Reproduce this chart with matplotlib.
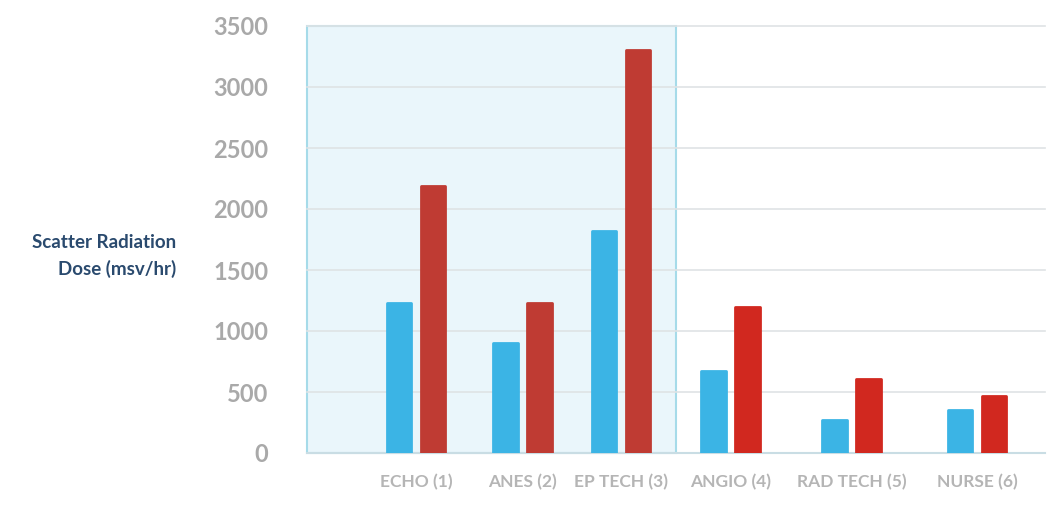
import matplotlib.pyplot as plt
from matplotlib.patches import Rectangle

categories = ["ECHO (1)", "ANES (2)", "EP TECH (3)", "ANGIO (4)", "RAD TECH (5)", "NURSE (6)"]
blue_vals = [1230, 900, 1820, 675, 270, 350]
red_vals = [2190, 1230, 3300, 1200, 610, 470]
yticks = [0, 500, 1000, 1500, 2000, 2500, 3000, 3500]

# layout (group centres, not evenly spaced in the original)
x_pos = [0, 0.95, 1.83, 2.81, 3.89, 5.01]
off = 0.152
w = 0.22

blue = "#3bb4e5"
red_in = "#bf3b33"
red_out = "#d1281f"
grey = "#a9a9a9"

plt.rcParams['font.family'] = ['Lato', 'DejaVu Sans']

fig = plt.figure(figsize=(10.5, 5.05), dpi=100)
ax = fig.add_axes([307/1050, 52/505, 738/1050, 427/505])
ax.set_xlim(-0.973, 5.616)
ax.set_ylim(0, 3500)

# highlight box over the first three groups
ax.add_patch(Rectangle((-0.973, 0), 2.32 + 0.973, 3500, facecolor="#eaf6fb",
                       edgecolor="#a6dbe9", lw=1.5, zorder=1, clip_on=False))

for y in yticks[1:]:
    ax.axhline(y, color="#dfe3e5", lw=1.2, zorder=2, clip_on=False)
ax.axhline(0, color="#c9dde4", lw=1.5, zorder=2, clip_on=False)

reds = [red_in if i < 3 else red_out for i in range(len(categories))]
bx = [x - off for x in x_pos]
rx = [x + off for x in x_pos]
ax.bar(bx, blue_vals, width=w, color=blue, edgecolor=blue, lw=2, joinstyle="round", zorder=3)
ax.bar(rx, red_vals, width=w, color=reds, edgecolor=reds, lw=2, joinstyle="round", zorder=3)

for s in ax.spines.values():
    s.set_visible(False)
ax.set_yticks(yticks)
ax.set_yticklabels([str(v) for v in yticks], fontsize=17, fontweight="bold", color=grey)
ax.tick_params(axis="y", length=0, pad=28)
ax.set_xticks(x_pos)
ax.set_xticklabels(categories, fontsize=12.5, fontweight="bold", color="#b5b5b5")
ax.tick_params(axis="x", length=0, pad=15)

fig.text(176/1050, 1 - 256/505, "Scatter Radiation\nDose (msv/hr)", ha="right", va="center",
         fontsize=13.5, fontweight="bold", color="#2a4a6e", linespacing=1.6)

fig.savefig("out.png", dpi=100)
